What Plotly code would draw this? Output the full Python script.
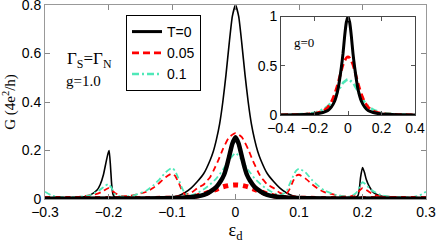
import plotly.graph_objects as go

# ---------------- main panel data (g = 1.0) ----------------
x_t0_thin = [-0.3, -0.27, -0.25, -0.24, -0.229, -0.218, -0.213, -0.208, -0.204, -0.201, -0.199,
             -0.197, -0.195, -0.193, -0.19, -0.17, -0.15, -0.12, -0.1, -0.09, -0.08, -0.07, -0.06,
             -0.05, -0.04, -0.035, -0.03, -0.025, -0.02, -0.015, -0.01, -0.005, 0.0,
             0.005, 0.01, 0.015, 0.02, 0.025, 0.03, 0.035, 0.04, 0.05, 0.06, 0.07, 0.08, 0.09,
             0.1, 0.12, 0.15, 0.17, 0.19, 0.193, 0.195, 0.197, 0.2, 0.203, 0.206, 0.21, 0.218,
             0.229, 0.24, 0.25, 0.27, 0.3]
y_t0_thin = [0.002, 0.003, 0.005, 0.008, 0.016, 0.037, 0.06, 0.1, 0.15, 0.185, 0.2,
             0.14, 0.06, 0.02, 0.008, 0.005, 0.004, 0.005, 0.007, 0.013, 0.026, 0.045, 0.072,
             0.105, 0.16, 0.196, 0.246, 0.31, 0.4, 0.512, 0.64, 0.753, 0.8,
             0.753, 0.64, 0.512, 0.4, 0.31, 0.246, 0.196, 0.16, 0.105, 0.072, 0.045, 0.026, 0.013,
             0.007, 0.005, 0.004, 0.005, 0.008, 0.015, 0.04, 0.09, 0.13, 0.11, 0.08, 0.055, 0.025,
             0.012, 0.007, 0.004, 0.003, 0.002]

x_t0_thick = [-0.3, -0.15, -0.08, -0.06, -0.05, -0.04, -0.03, -0.023, -0.018, -0.014, -0.01, -0.005, 0.0,
              0.005, 0.01, 0.014, 0.018, 0.023, 0.03, 0.04, 0.05, 0.06, 0.08, 0.15, 0.3]
y_t0_thick = [0.001, 0.002, 0.006, 0.011, 0.017, 0.03, 0.05, 0.075, 0.1, 0.133, 0.175, 0.228, 0.255,
              0.228, 0.175, 0.133, 0.1, 0.075, 0.05, 0.03, 0.017, 0.011, 0.006, 0.002, 0.001]

x_t05_thin = [-0.3, -0.25, -0.22, -0.21, -0.2, -0.19, -0.18, -0.17, -0.16, -0.14, -0.13, -0.12, -0.11,
              -0.1, -0.095, -0.09, -0.085, -0.08, -0.07, -0.06, -0.05, -0.045, -0.04, -0.035, -0.027,
              -0.02, -0.01, 0.0, 0.01, 0.02, 0.027, 0.035, 0.04, 0.045, 0.05, 0.06, 0.07, 0.08, 0.085,
              0.09, 0.095, 0.1, 0.11, 0.12, 0.13, 0.14, 0.16, 0.18, 0.19, 0.2, 0.21, 0.22, 0.25, 0.3]
y_t05_thin = [0.004, 0.008, 0.02, 0.03, 0.045, 0.025, 0.012, 0.012, 0.016, 0.03, 0.045, 0.066, 0.09,
              0.105, 0.095, 0.07, 0.04, 0.02, 0.025, 0.045, 0.06, 0.075, 0.09, 0.115, 0.16,
              0.205, 0.255, 0.272, 0.255, 0.205, 0.16, 0.115, 0.09, 0.075, 0.06, 0.045, 0.025, 0.02, 0.04,
              0.07, 0.095, 0.1, 0.085, 0.062, 0.042, 0.028, 0.015, 0.01, 0.02, 0.045, 0.03, 0.015, 0.008, 0.004]

x_t05_thick = [-0.3, -0.1, -0.08, -0.07, -0.06, -0.05, -0.04, -0.03, -0.02, -0.01, 0.0,
               0.01, 0.02, 0.03, 0.04, 0.05, 0.06, 0.07, 0.08, 0.1, 0.3]
y_t05_thick = [0.002, 0.003, 0.005, 0.008, 0.013, 0.02, 0.03, 0.04, 0.05, 0.056, 0.058,
               0.056, 0.05, 0.04, 0.03, 0.02, 0.013, 0.008, 0.005, 0.003, 0.002]

x_t1_thin = [-0.3, -0.29, -0.28, -0.25, -0.23, -0.215, -0.205, -0.2, -0.195, -0.19, -0.18, -0.16,
             -0.14, -0.13, -0.12, -0.11, -0.1, -0.095, -0.09, -0.085, -0.08, -0.07, -0.06, -0.05,
             -0.04, -0.03, -0.02, -0.01, 0.0, 0.01, 0.02, 0.03, 0.04, 0.05, 0.06, 0.07, 0.08,
             0.085, 0.09, 0.095, 0.1, 0.11, 0.12, 0.13, 0.14, 0.16, 0.18, 0.19, 0.2, 0.205, 0.215,
             0.23, 0.25, 0.28, 0.29, 0.3]
y_t1_thin = [0.03, 0.015, 0.008, 0.008, 0.015, 0.035, 0.055, 0.062, 0.045, 0.02, 0.01, 0.015,
             0.035, 0.055, 0.08, 0.11, 0.128, 0.115, 0.085, 0.05, 0.025, 0.015, 0.025, 0.04,
             0.06, 0.085, 0.12, 0.16, 0.19, 0.16, 0.12, 0.085, 0.06, 0.04, 0.025, 0.015, 0.03,
             0.06, 0.09, 0.115, 0.125, 0.11, 0.08, 0.055, 0.035, 0.015, 0.01, 0.025, 0.07, 0.06, 0.035,
             0.015, 0.008, 0.008, 0.015, 0.03]

# ---------------- inset data (g = 0) ----------------
x_in = [-0.4, -0.3, -0.2, -0.15, -0.12, -0.1, -0.08, -0.06, -0.04, -0.03, -0.02, -0.01, 0.0,
        0.01, 0.02, 0.03, 0.04, 0.06, 0.08, 0.1, 0.12, 0.15, 0.2, 0.3, 0.4]
y_in_t0 = [0.001, 0.003, 0.01, 0.025, 0.045, 0.08, 0.14, 0.26, 0.48, 0.62, 0.8, 0.94, 1.0,
           0.94, 0.8, 0.62, 0.48, 0.26, 0.14, 0.08, 0.045, 0.025, 0.01, 0.003, 0.001]
y_in_t05 = [0.002, 0.004, 0.015, 0.04, 0.08, 0.13, 0.21, 0.32, 0.45, 0.51, 0.55, 0.58, 0.59,
            0.58, 0.55, 0.51, 0.45, 0.32, 0.21, 0.13, 0.08, 0.04, 0.015, 0.004, 0.002]
y_in_t1 = [0.003, 0.006, 0.022, 0.055, 0.09, 0.13, 0.18, 0.24, 0.3, 0.325, 0.34, 0.355, 0.36,
           0.355, 0.34, 0.325, 0.3, 0.24, 0.18, 0.13, 0.09, 0.055, 0.022, 0.006, 0.003]

legend_names = ["T=0", "0.05", "0.1"]
x_ticks_main = [-0.3, -0.2, -0.1, 0, 0.1, 0.2, 0.3]
y_ticks_main = [0, 0.2, 0.4, 0.6, 0.8]
x_ticks_in = [-0.4, -0.2, 0, 0.2, 0.4]
y_ticks_in = [0, 0.5, 1]

BLACK = "#000000"
RED = "#ff0000"
CYAN = "#4fe8b8"

fig = go.Figure()
spl = dict(shape="spline", smoothing=0.5)

fig.add_trace(go.Scatter(x=x_t0_thin, y=y_t0_thin, mode="lines", showlegend=False,
                         line=dict(color=BLACK, width=1.6, **spl)))
fig.add_trace(go.Scatter(x=x_t05_thin, y=y_t05_thin, mode="lines", showlegend=False,
                         line=dict(color=RED, width=1.8, dash="6px,4px", **spl)))
fig.add_trace(go.Scatter(x=x_t1_thin, y=y_t1_thin, mode="lines", showlegend=False,
                         line=dict(color=CYAN, width=1.8, dash="6px,3px,2px,3px", **spl)))
fig.add_trace(go.Scatter(x=x_t05_thick, y=y_t05_thick, mode="lines", showlegend=False,
                         line=dict(color=RED, width=5, dash="5px,5px", **spl)))
fig.add_trace(go.Scatter(x=x_t0_thick, y=y_t0_thick, mode="lines", showlegend=False,
                         line=dict(color=BLACK, width=4.5, **spl)))

# inset traces (also used for legend)
fig.add_trace(go.Scatter(x=x_in, y=y_in_t1, mode="lines", name=legend_names[2], xaxis="x2", yaxis="y2",
                         line=dict(color=CYAN, width=2.6, dash="7px,3px,2px,3px", **spl), legendrank=3))
fig.add_trace(go.Scatter(x=x_in, y=y_in_t05, mode="lines", name=legend_names[1], xaxis="x2", yaxis="y2",
                         line=dict(color=RED, width=2.8, dash="7px,4px", **spl), legendrank=2))
fig.add_trace(go.Scatter(x=x_in, y=y_in_t0, mode="lines", name=legend_names[0], xaxis="x2", yaxis="y2",
                         line=dict(color=BLACK, width=3, **spl), legendrank=1))

tickfont = dict(family="Liberation Sans, Arial, sans-serif", size=14, color="black")
serif = "Liberation Serif, Times New Roman, serif"

common = dict(ticks="inside", showline=True, mirror="ticks", showgrid=False, zeroline=False,
              tickfont=tickfont, automargin=False, ticklabeloverflow="allow")

fig.update_layout(
    width=436, height=245,
    margin=dict(l=45, r=10, t=5, b=46, autoexpand=False),
    paper_bgcolor="white", plot_bgcolor="white",
    showlegend=True,
    legend=dict(x=(126 - 45) / 381, y=1 - (15 - 5) / 194, xanchor="left", yanchor="top",
                bgcolor="white", bordercolor="black", borderwidth=1,
                font=dict(family="Liberation Sans, Arial, sans-serif", size=14, color="black"),
                traceorder="normal", itemwidth=30, tracegroupgap=0),
    xaxis=dict(range=[-0.3, 0.3], tickvals=x_ticks_main,
               ticktext=["−0.3", "−0.2", "−0.1", "0", "0.1", "0.2", "0.3"],
               ticklen=5, tickcolor="#888", linecolor="#999", **common,
               title=dict(text="ε<sub>d</sub>", font=dict(family=serif, size=18, color="black"), standoff=2)),
    yaxis=dict(range=[0, 0.8], tickvals=y_ticks_main, ticktext=["0", "0.2", "0.4", "0.6", "0.8"],
               ticklen=5, tickcolor="#888", linecolor="#999", **common,
               title=dict(text="G (4e<sup>2</sup>/h)", font=dict(family=serif, size=15, color="black"), standoff=2)),
    xaxis2=dict(domain=[(281 - 45) / 381, (415 - 45) / 381], anchor="y2", range=[-0.4, 0.4],
                tickvals=x_ticks_in, ticktext=["−0.4", "−0.2", "0", "0.2", "0.4"],
                ticklen=4, tickcolor="#555", linecolor="#444", **common),
    yaxis2=dict(domain=[(199 - 115) / 194, (199 - 16.5) / 194], anchor="x2", range=[0, 1],
                tickvals=y_ticks_in, ticktext=["0", "0.5", "1"],
                ticklen=4, tickcolor="#555", linecolor="#444", **common),
    annotations=[
        dict(text="Γ<sub>S</sub>=Γ<sub>N</sub>", xref="paper", yref="paper",
             x=(65 - 45) / 381, y=(199 - 60) / 194, xanchor="left", yanchor="middle",
             showarrow=False, font=dict(family=serif, size=17, color="black")),
        dict(text="g=1.0", xref="paper", yref="paper",
             x=(64 - 45) / 381, y=(199 - 81) / 194, xanchor="left", yanchor="middle",
             showarrow=False, font=dict(family=serif, size=15, color="black")),
        dict(text="g=0", xref="paper", yref="paper",
             x=(292 - 45) / 381, y=(199 - 43) / 194, xanchor="left", yanchor="middle",
             showarrow=False, font=dict(family=serif, size=13, color="black")),
    ],
)

fig.write_html("out.html", config={"displayModeBar": False},
               post_script="document.body.style.margin='0px';")
